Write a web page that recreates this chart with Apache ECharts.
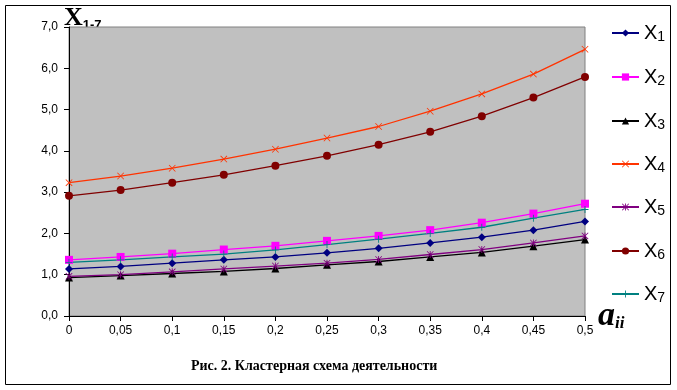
<!DOCTYPE html>
<html><head><meta charset="utf-8">
<script src="https://cdn.jsdelivr.net/npm/echarts@6/dist/echarts.min.js"></script>
<style>html,body{margin:0;padding:0;background:#fff}#c{width:677px;height:390px}</style>
</head><body><div id="c"></div>
<script>
const categories = ['0','0,05','0,1','0,15','0,2','0,25','0,3','0,35','0,4','0,45','0,5'];
const seriesNames = ['X1','X2','X3','X4','X5','X6','X7'];
const x1 = [1.14,1.20,1.28,1.36,1.43,1.53,1.64,1.77,1.91,2.08,2.29];
const x2 = [1.36,1.43,1.51,1.61,1.70,1.82,1.94,2.08,2.26,2.48,2.72];
const x3 = [0.93,0.98,1.03,1.08,1.15,1.24,1.32,1.43,1.54,1.69,1.85];
const x4 = [3.23,3.39,3.58,3.80,4.04,4.31,4.59,4.96,5.38,5.86,6.46];
const x5 = [0.96,1.00,1.07,1.14,1.21,1.28,1.37,1.49,1.61,1.77,1.94];
const x6 = [2.91,3.05,3.23,3.42,3.64,3.88,4.15,4.46,4.84,5.29,5.79];
const x7 = [1.30,1.36,1.43,1.50,1.60,1.73,1.86,2.00,2.15,2.37,2.58];
const yTicks = [0,1,2,3,4,5,6,7];
const caption = 'Рис. 2. Кластерная схема деятельности';

const values = [x1,x2,x3,x4,x5,x6,x7];
const colors = ['#000080','#FF00FF','#000000','#FF3300','#800080','#800000','#008080'];
const PLUS = 'path://M4.4,0H5.6V10H4.4Z M0,4.4H10V5.6H0Z';
const CROSS = 'path://M0,0.8L0.8,0L10,9.2L9.2,10Z M9.2,0L10,0.8L0.8,10L0,9.2Z';
const STAR = 'path://M0,0.8L0.8,0L10,9.2L9.2,10Z M9.2,0L10,0.8L0.8,10L0,9.2Z M4.4,0H5.6V10H4.4Z';
const symbols = ['diamond','rect','triangle',CROSS,STAR,'circle',PLUS];
const sizes = [8,8,8,7,7,8,7];
const legendY = [29,73,117,160,203,247,290];

const chart = echarts.init(document.getElementById('c'), null, {renderer:'canvas'});
const series = seriesNames.map((n,i)=>({
  name:n, type:'line', data: values[i], symbol: symbols[i], symbolSize: sizes[i],
  showAllSymbol:true, animation:false,
  lineStyle:{color:colors[i], width:1.3},
  itemStyle:{color:colors[i]}
}));
const legends = seriesNames.map((n,i)=>({
  data:[n], left:606, top: legendY[i]-12, itemWidth:27, itemHeight:9, itemGap:0,
  selectedMode:false,
  formatter: name => '{x|X}{s|' + name.slice(1) + '}',
  textStyle:{color:'#000', rich:{
    x:{fontFamily:'Liberation Sans, Arial', fontSize:20, lineHeight:24, color:'#000'},
    s:{fontFamily:'Liberation Sans, Arial', fontSize:14, lineHeight:24, padding:[8,0,0,0], color:'#000'}
  }}
}));
chart.setOption({
  animation:false,
  backgroundColor:'#fff',
  title:{text:caption, top:354, left:186, textStyle:{fontFamily:'Liberation Serif, Times New Roman', fontSize:14, fontWeight:'bold', color:'#000'}},
  legend: legends,
  grid:{left:69, right:92, top:27, bottom:74, show:true, backgroundColor:'#C0C0C0', borderColor:'#808080', borderWidth:1, containLabel:false},
  xAxis:{type:'category', data:categories, boundaryGap:false,
    axisLine:{lineStyle:{color:'#000', width:1}},
    axisTick:{show:true, length:5, inside:false, lineStyle:{color:'#000'}, alignWithLabel:true},
    axisLabel:{color:'#000', fontSize:12, fontFamily:'Liberation Sans, Arial', margin:9},
    splitLine:{show:false}},
  yAxis:{type:'value', min:yTicks[0], max:yTicks[yTicks.length-1], interval:1,
    axisLine:{show:true, lineStyle:{color:'#000', width:1}},
    axisTick:{show:true, length:5, lineStyle:{color:'#000'}},
    axisLabel:{color:'#000', fontSize:12, fontFamily:'Liberation Sans, Arial', margin:11, formatter:v=>v.toFixed(1).replace('.',',')},
    splitLine:{show:false}},
  graphic:[
    {type:'rect', shape:{x:5.5,y:5.5,width:665,height:379}, style:{fill:null, stroke:'#000', lineWidth:1}, z:-5, silent:true},
    {type:'text', left:64, top:4, z:-1, style:{text:'{x|X}{s|1-7}', rich:{
      x:{fontFamily:'Liberation Serif, Times New Roman', fontSize:26, fontWeight:'bold', fill:'#000', lineHeight:28},
      s:{fontFamily:'Liberation Sans, Arial', fontSize:13, fontWeight:'bold', fill:'#000', lineHeight:28, padding:[15,0,0,0]}}}},
    {type:'text', left:598, top:299, style:{text:'{a|a}{s|ii}', rich:{
      a:{fontFamily:'Liberation Serif, Times New Roman', fontSize:34, fontStyle:'italic', fontWeight:'bold', fill:'#000', lineHeight:36},
      s:{fontFamily:'Liberation Serif, Times New Roman', fontSize:17, fontStyle:'italic', fontWeight:'bold', fill:'#000', lineHeight:36, padding:[16,0,0,0]}}}}
  ],
  series: series
});
</script></body></html>
